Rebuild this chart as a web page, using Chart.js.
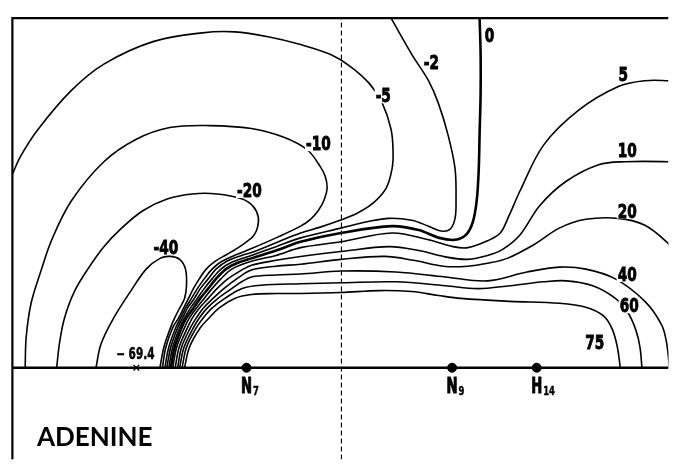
<!DOCTYPE html>
<html>
<head>
<meta charset="utf-8">
<script src="https://cdn.jsdelivr.net/npm/chart.js@4/dist/chart.umd.min.js"></script>
<style>
html, body { margin: 0; padding: 0; background: #fff; }
#wrap { width: 674px; height: 465px; }
</style>
</head>
<body>
<div id="wrap"><canvas id="adenine"></canvas></div>
<script>
// isopotential contours above the adenine plane, x along the plane, y height above it
var levels = [-40, -20, -10, -5, -2, 0, 5, 10, 20, 40, 60, 75];

var cM40 = [[0.92,0],[0.97,0.24],[1.10,0.51],[1.27,0.78],[1.43,1.01],[1.57,1.12],[1.67,1.14],[1.77,1.11],[1.83,1.01],[1.84,0.84],[1.82,0.71],[1.77,0.61],[1.72,0.51],[1.67,0.39],[1.61,0.21],[1.57,0]];
var cM20 = [[0.52,0],[0.55,0.26],[0.60,0.51],[0.70,0.78],[0.85,1.03],[1.00,1.24],[1.18,1.43],[1.40,1.61],[1.65,1.73],[1.90,1.78],[2.15,1.78],[2.40,1.73],[2.52,1.65],[2.57,1.54],[2.56,1.43],[2.52,1.35],[2.45,1.29],[2.35,1.22],[2.25,1.16],[2.13,1.09],[2.04,1.01],[1.97,0.91],[1.91,0.81],[1.86,0.71],[1.81,0.61],[1.76,0.51],[1.70,0.41],[1.63,0.21],[1.595,0]];
var cM10 = [[1.62,0],[1.66,0.21],[1.73,0.41],[1.78,0.51],[1.83,0.61],[1.89,0.71],[1.95,0.81],[2.02,0.91],[2.10,1.01],[2.20,1.09],[2.35,1.16],[2.50,1.22],[2.75,1.33],[3.00,1.45],[3.10,1.52],[3.18,1.61],[3.24,1.72],[3.27,1.84],[3.25,1.96],[3.20,2.06],[3.07,2.23],[2.83,2.36],[2.50,2.45],[2.07,2.48],[1.67,2.46],[1.33,2.34],[1.00,2.11],[0.67,1.71],[0.47,1.31],[0.35,0.96],[0.26,0.66],[0.21,0.31],[0.20,0]];
var cM5 = [[1.64,0],[1.68,0.21],[1.75,0.41],[1.80,0.51],[1.85,0.61],[1.92,0.71],[1.98,0.81],[2.06,0.91],[2.14,1.01],[2.25,1.09],[2.40,1.15],[2.50,1.18],[2.75,1.28],[3.00,1.38],[3.20,1.44],[3.40,1.51],[3.57,1.58],[3.73,1.68],[3.87,1.84],[3.93,2.04],[3.94,2.21],[3.92,2.44],[3.83,2.71],[3.70,2.91],[3.50,3.09],[3.30,3.21],[3.00,3.31],[2.67,3.39],[2.33,3.44],[2.00,3.43],[1.50,3.34],[1.00,3.11],[0.67,2.84],[0.33,2.44],[0.15,2.16],[0.07,1.98]];
var cM2 = [[1.66,0],[1.70,0.21],[1.77,0.41],[1.82,0.51],[1.88,0.61],[1.95,0.71],[2.02,0.81],[2.10,0.91],[2.19,1.01],[2.30,1.08],[2.50,1.15],[2.75,1.24],[3.00,1.33],[3.41,1.43],[3.70,1.50],[3.90,1.53],[4.13,1.51],[4.30,1.45],[4.43,1.40],[4.52,1.42],[4.57,1.53],[4.58,1.71],[4.57,2.04],[4.50,2.38],[4.40,2.71],[4.30,2.94],[4.13,3.21],[3.92,3.58]];
var c0 = [[1.68,0],[1.72,0.21],[1.79,0.41],[1.84,0.51],[1.91,0.61],[1.98,0.71],[2.06,0.81],[2.14,0.91],[2.24,1.01],[2.35,1.07],[2.50,1.12],[2.75,1.20],[3.00,1.29],[3.41,1.38],[3.93,1.45],[4.20,1.41],[4.41,1.33],[4.57,1.31],[4.68,1.36],[4.75,1.49],[4.79,1.71],[4.81,2.01],[4.82,2.41],[4.83,2.81],[4.83,3.21],[4.82,3.58]];
var c5 = [[1.70,0],[1.74,0.21],[1.82,0.41],[1.87,0.51],[1.94,0.61],[2.02,0.71],[2.10,0.81],[2.19,0.91],[2.30,1.01],[2.50,1.09],[2.75,1.15],[3.00,1.23],[3.41,1.29],[3.93,1.38],[4.30,1.31],[4.55,1.24],[4.70,1.23],[4.90,1.30],[5.03,1.38],[5.12,1.56],[5.23,1.81],[5.47,2.28],[5.83,2.64],[6.23,2.88],[6.50,2.94],[6.74,2.94],[6.90,2.93]];
var c10 = [[1.725,0],[1.765,0.21],[1.85,0.41],[1.90,0.51],[1.97,0.61],[2.06,0.71],[2.15,0.81],[2.26,0.91],[2.40,1.00],[2.50,1.05],[2.75,1.10],[3.00,1.14],[3.41,1.19],[3.90,1.24],[4.20,1.20],[4.50,1.13],[4.70,1.11],[4.90,1.15],[5.05,1.21],[5.23,1.36],[5.43,1.66],[5.70,1.91],[6.03,2.08],[6.30,2.11],[6.74,2.11],[6.90,2.10]];
var c20 = [[1.75,0],[1.79,0.21],[1.88,0.41],[1.94,0.51],[2.01,0.61],[2.11,0.71],[2.22,0.81],[2.35,0.91],[2.50,1.00],[2.75,1.04],[3.00,1.06],[3.41,1.11],[3.85,1.14],[4.15,1.10],[4.45,1.04],[4.70,1.04],[4.90,1.07],[5.10,1.12],[5.37,1.26],[5.63,1.43],[5.90,1.52],[6.23,1.53],[6.50,1.46],[6.73,1.28],[6.90,1.09]];
var c40 = [[1.77,0],[1.815,0.21],[1.91,0.41],[1.97,0.51],[2.05,0.61],[2.16,0.71],[2.30,0.81],[2.40,0.88],[2.50,0.93],[2.75,0.95],[3.00,0.96],[3.41,0.99],[3.97,0.98],[4.47,0.93],[4.90,0.89],[5.30,0.98],[5.63,1.03],[5.90,1.01],[6.20,0.91],[6.50,0.68],[6.67,0.44],[6.72,0.26],[6.75,0]];
var c60 = [[1.795,0],[1.84,0.21],[1.94,0.41],[2.01,0.51],[2.10,0.61],[2.23,0.71],[2.40,0.81],[2.60,0.845],[3.00,0.86],[3.41,0.87],[3.97,0.88],[4.47,0.84],[4.80,0.81],[5.13,0.84],[5.47,0.88],[5.70,0.89],[5.97,0.84],[6.20,0.71],[6.33,0.56],[6.41,0.38],[6.45,0.21],[6.47,0]];
var c75 = [[1.82,0],[1.87,0.21],[1.98,0.41],[2.07,0.51],[2.17,0.61],[2.33,0.71],[2.50,0.75],[2.75,0.76],[3.00,0.76],[3.41,0.77],[3.80,0.79],[4.13,0.78],[4.40,0.74],[4.63,0.71],[5.13,0.68],[5.63,0.66],[5.90,0.62],[6.08,0.53],[6.17,0.39],[6.22,0.21],[6.25,0]];

var contours = [cM40, cM20, cM10, cM5, cM2, c0, c5, c10, c20, c40, c60, c75];
var labelText = ['-40', '-20', '-10', '-5', '-2', '0', '5', '10', '20', '40', '60', '75'];
var labelX = [1.63, 2.48, 3.18, 3.84, 4.33, 4.92, 6.28, 6.32, 6.32, 6.32, 6.34, 5.99];
var labelY = [1.24, 1.82, 2.30, 2.79, 3.13, 3.41, 3.01, 2.23, 1.61, 0.96, 0.64, 0.26];

// atoms lying in the plane
var atomName = ['N', 'N', 'H'];
var atomSub = ['7', '9', '14'];
var atomX = [2.45, 4.54, 5.40];

// potential minimum
var minX = 1.33;
var minText = '\u2212 69.4';

var frameX = [0.07, 0.07, 6.74];
var frameY = [-0.94, 3.58, 3.58];
var planeX = [0.07, 6.74];
var dividerX = 3.415;

function pts(a) {
    return a.map(function (p) { return {x: p[0], y: p[1]}; });
}

var bold = 'bold {s}px "DejaVu Sans", sans-serif';

// draws squeezed, slightly thickened text, returns its drawn width
function squeezed(ctx, t, x, y, size, sx, align, thick) {
    ctx.save();
    ctx.font = bold.replace('{s}', size);
    var w = ctx.measureText(t).width * sx;
    ctx.translate(x, y);
    ctx.scale(sx, 1);
    ctx.textAlign = align;
    ctx.fillText(t, 0, 0);
    if (thick) {
        ctx.lineWidth = thick;
        ctx.strokeStyle = '#000';
        ctx.strokeText(t, 0, 0);
    }
    ctx.restore();
    return w;
}

var textPlugin = {
    id: 'texts',
    afterDatasetsDraw: function (chart) {
        var ctx = chart.ctx;
        var xs = chart.scales.x, ys = chart.scales.y;
        ctx.save();
        ctx.textBaseline = 'alphabetic';
        labelText.forEach(function (t, i) {
            var px = xs.getPixelForValue(labelX[i]);
            var py = ys.getPixelForValue(labelY[i]);
            ctx.font = bold.replace('{s}', 19);
            var w = ctx.measureText(t).width * 0.72;
            ctx.fillStyle = '#fff';
            ctx.fillRect(px - w / 2 - 1, py - 8, w + 2, 16);
            ctx.fillStyle = '#000';
            squeezed(ctx, t, px, py + 7, 19, 0.72, 'center', 0.9);
        });

        // minimum value
        squeezed(ctx, minText, xs.getPixelForValue(minX - 0.01), ys.getPixelForValue(0.14) + 5, 15, 0.7, 'center', 0.5);

        // atom labels with subscripts
        var base = ys.getPixelForValue(-0.26);
        atomName.forEach(function (n, i) {
            var px = xs.getPixelForValue(atomX[i]);
            var w = squeezed(ctx, n, px, base, 22, 0.6, 'center', 1.1);
            squeezed(ctx, atomSub[i], px + w / 2 + 1, base + 2, 12, 0.7, 'left', 0.5);
        });

        ctx.font = 'bold 26px Lato, "Liberation Sans", sans-serif';
        ctx.textAlign = 'left';
        ctx.fillText('ADENINE', xs.getPixelForValue(0.32), ys.getPixelForValue(-0.80));
        ctx.restore();
    }
};

var datasets = [];
datasets.push({
    data: pts(frameX.map(function (x, i) { return [x, frameY[i]]; })),
    borderColor: '#000', borderWidth: 2.2, pointRadius: 0, showLine: true, tension: 0
});
datasets.push({
    data: pts([[planeX[0], 0], [planeX[1], 0]]),
    borderColor: '#000', borderWidth: 2.4, pointRadius: 0, showLine: true, tension: 0
});
datasets.push({
    data: pts([[dividerX, -0.94], [dividerX, 3.58]]),
    borderColor: '#000', borderWidth: 1.1, borderDash: [5, 3], pointRadius: 0, showLine: true, tension: 0
});
contours.forEach(function (c, i) {
    datasets.push({
        label: String(levels[i]),
        data: pts(c),
        borderColor: '#000',
        borderWidth: levels[i] === 0 ? 2.6 : 1.6,
        pointRadius: 0,
        showLine: true,
        tension: 0.35
    });
});
datasets.push({
    data: atomX.map(function (x) { return {x: x, y: 0}; }),
    pointRadius: 4.5, pointStyle: 'circle', backgroundColor: '#000', borderColor: '#000', showLine: false
});
datasets.push({
    data: [{x: minX, y: 0}],
    pointRadius: 4, pointStyle: 'crossRot', borderColor: '#000', borderWidth: 1.3, showLine: false
});

new Chart(document.getElementById('adenine'), {
    type: 'scatter',
    data: {datasets: datasets},
    options: {
        responsive: true,
        maintainAspectRatio: false,
        animation: false,
        layout: {padding: 0},
        plugins: {legend: {display: false}, tooltip: {enabled: false}},
        scales: {
            x: {type: 'linear', min: 0, max: 6.74, display: false},
            y: {type: 'linear', min: -0.94, max: 3.71, display: false}
        }
    },
    plugins: [textPlugin]
});
</script>
</body>
</html>
